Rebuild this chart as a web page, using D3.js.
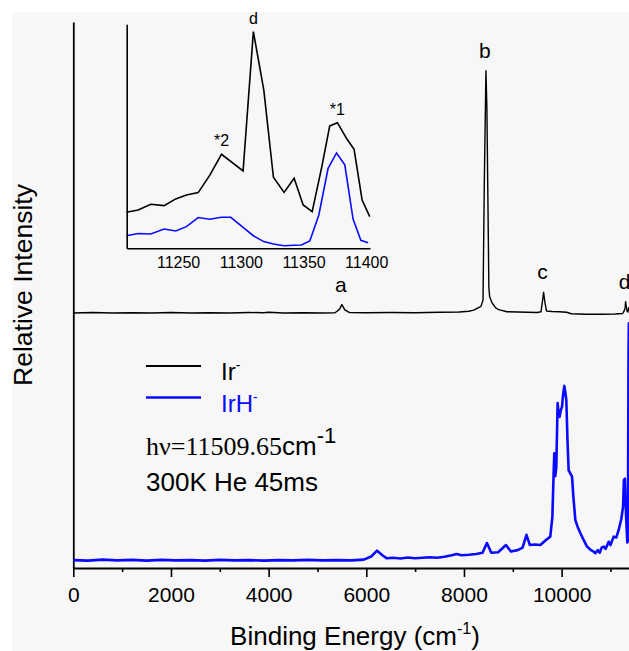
<!DOCTYPE html>
<html>
<head>
<meta charset="utf-8">
<script src="https://cdn.jsdelivr.net/npm/d3@7"></script>
<style>
    body { margin: 0; background: #fff; }
    svg { display: block; }
    .sans { font-family: "Liberation Sans", Arial, sans-serif; }
    .serif { font-family: "Liberation Serif", "Times New Roman", serif; }
</style>
</head>
<body>
<svg width="629" height="651"></svg>
<script>
// Ir- spectrum (height above its own baseline), main panel
const irEnergy = [0, 400, 800, 1200, 1600, 2000, 2400, 2800, 3200, 3600, 3900, 4000, 4300, 4700, 5100,
    5360, 5450, 5500, 5560, 5650, 6000, 6500, 7000, 7500, 7900, 8100, 8200, 8348, 8390, 8416, 8450,
    8470, 8484, 8510, 8525, 8574, 8650, 8709, 8881, 9100, 9300, 9500, 9578, 9610, 9631, 9655, 9690,
    9800, 9950, 10100, 10200, 10500, 10800, 11100, 11250, 11280, 11300, 11310, 11320, 11340, 11357,
    11377, 11390, 11403];
const irIntensity = [0, 0.002, 0, 0.001, 0, 0.002, 0, 0.001, 0, 0.002, 0.001, 0.003, 0, 0.001, 0,
    0.001, 0.014, 0.033, 0.012, 0.002, 0.001, 0.002, 0.001, 0.003, 0.004, 0.007, 0.011, 0.026, 0.05, 0.5, 0.95,
    0.8, 0.55, 0.1, 0.065, 0.04, 0.02, 0.013, 0.005, 0.004, 0.003, 0.002, 0.005, 0.05, 0.081, 0.045, 0.008,
    0.006, 0.005, 0.003, -0.003, -0.005, -0.005, -0.004, -0.002, 0.008, 0.02, 0.044, 0.03, 0.008, 0.004,
    0.022, 0.015, 0.004];

// IrH- spectrum, main panel
const irhEnergy = [0, 300, 600, 900, 1200, 1500, 1800, 2100, 2400, 2700, 3000, 3300, 3600, 3900, 4200,
    4500, 4800, 5100, 5400, 5700, 5950, 6100, 6220, 6330, 6420, 6550, 6700, 6850, 7000, 7150, 7300, 7450,
    7600, 7750, 7850, 7950, 8100, 8250, 8380, 8470, 8560, 8700, 8860, 8960, 9100, 9200, 9280, 9350, 9450,
    9563, 9680, 9768, 9810, 9836, 9850, 9870, 9891, 9918, 9940, 9959, 9985, 10008, 10030, 10055, 10075,
    10096, 10120, 10143, 10180, 10213, 10240, 10281, 10330, 10383, 10450, 10520, 10600, 10650, 10691,
    10740, 10780, 10820, 10861, 10900, 10963, 11000, 11066, 11120, 11168, 11220, 11258, 11275, 11295,
    11320, 11345, 11360, 11370, 11377, 11385, 11395, 11400];
const irhIntensity = [0.031, 0.029, 0.033, 0.030, 0.032, 0.029, 0.032, 0.030, 0.031, 0.029, 0.032, 0.030,
    0.031, 0.029, 0.031, 0.030, 0.032, 0.030, 0.031, 0.030, 0.033, 0.045, 0.068, 0.05, 0.038, 0.04, 0.037,
    0.041, 0.038, 0.04, 0.042, 0.04, 0.044, 0.05, 0.055, 0.05, 0.052, 0.055, 0.06, 0.098, 0.06, 0.062, 0.09,
    0.065, 0.07, 0.08, 0.13, 0.09, 0.092, 0.09, 0.11, 0.123, 0.2, 0.37, 0.45, 0.36, 0.397, 0.647, 0.6, 0.593,
    0.62, 0.633, 0.68, 0.714, 0.69, 0.659, 0.5, 0.384, 0.37, 0.358, 0.28, 0.188, 0.16, 0.137, 0.11, 0.084,
    0.07, 0.065, 0.058, 0.07, 0.06, 0.08, 0.084, 0.075, 0.103, 0.09, 0.123, 0.12, 0.149, 0.19, 0.24, 0.345,
    0.35, 0.2, 0.1, 0.3, 0.85, 0.96, 0.8, 0.2, 0.1];

// inset: zoom on 11210-11400 cm-1
const insetEnergy = [11208.8, 11218.1, 11228.2, 11238.8, 11248.1, 11256.6, 11266, 11275.3, 11284.6, 11292,
    11301.8, 11310, 11318.3, 11326, 11334.5, 11342.5, 11348.3, 11355, 11362.2, 11369.6, 11376.3, 11382.9,
    11389.5, 11395.7, 11401.5];
const insetIrEnergy = [11208.8, 11218.1, 11228.2, 11238.8, 11248.1, 11256.6, 11266, 11275.3, 11284.6,
    11301.8, 11310, 11318.3, 11326, 11334.5, 11342.5, 11349.7, 11356.9, 11364.3, 11370.9, 11377, 11384.2,
    11390.3, 11396.7, 11402.8];
const insetIr = [0.166, 0.177, 0.203, 0.197, 0.228, 0.246, 0.257, 0.338, 0.434, 0.357, 1.0, 0.731, 0.328,
    0.258, 0.323, 0.2, 0.169, 0.369, 0.565, 0.58, 0.508, 0.457, 0.223, 0.146];
const insetIrH = [0.058, 0.068, 0.066, 0.089, 0.08, 0.1, 0.142, 0.134, 0.143, 0.143, 0.097, 0.058, 0.031,
    0.02, 0.012, 0.014, 0.015, 0.034, 0.154, 0.369, 0.44, 0.385, 0.135, 0.037, 0.026];

const mainTicks = [0, 2000, 4000, 6000, 8000, 10000];
const minorTicks = [1000, 3000, 5000, 7000, 9000, 11000];
const insetTicks = [11250, 11300, 11350, 11400];

const peakLabels = [
    { text: 'a', energy: 5500, height: 0.033 },
    { text: 'b', energy: 8450, height: 0.95 },
    { text: 'c', energy: 9631, height: 0.081 },
    { text: 'd', energy: 11310, height: 0.044 }
];
const insetLabels = [
    { text: 'd', energy: 11310, height: 1.0 },
    { text: '*2', energy: 11284.6, height: 0.434 },
    { text: '*1', energy: 11377, height: 0.58 }
];

const irOffset = 1.0;
const blue = '#0a0aff';

const svg = d3.select('svg');

svg.append('rect')
    .attr('x', 12).attr('y', 12)
    .attr('width', 629).attr('height', 651)
    .attr('fill', '#f7f7f7');

const x = d3.scaleLinear().domain([0, 11400]).range([73.3, 630]);
const y = d3.scaleLinear().domain([0, 2.141]).range([568, 22]);

const xIn = d3.scaleLinear().domain([11209, 11403]).range([126.7, 370]);
const yIn = d3.scaleLinear().domain([0, 1.034]).range([248.3, 24.3]);

// ---- main axes
const xAxis = svg.append('g')
    .attr('class', 'sans')
    .attr('transform', `translate(0,${y(0)})`)
    .call(d3.axisBottom(x)
        .tickValues(mainTicks)
        .tickFormat(d3.format('d'))
        .tickSize(9)
        .tickSizeOuter(0)
        .tickPadding(10));
xAxis.selectAll('text').attr('font-size', 21).attr('fill', '#000');

svg.append('g')
    .attr('transform', `translate(0,${y(0)})`)
    .call(d3.axisBottom(x).tickValues(minorTicks).tickFormat('').tickSize(4))
    .call(g => g.select('.domain').remove());

svg.append('g')
    .attr('transform', `translate(${x(0)},0)`)
    .call(d3.axisLeft(y).tickValues([]).tickSizeOuter(0));

svg.selectAll('.domain').attr('stroke-width', 1.8);
svg.selectAll('.tick line').attr('stroke-width', 1.6);

// ---- main spectra
const line = d3.line()
    .x(d => x(d[0]))
    .y(d => y(d[1]));

svg.append('path')
    .datum(irhEnergy.map((e, i) => [e, irhIntensity[i]]))
    .attr('fill', 'none')
    .attr('stroke', blue)
    .attr('stroke-width', 2.6)
    .attr('stroke-linejoin', 'round')
    .attr('d', line);

svg.append('path')
    .datum(irEnergy.map((e, i) => [e, irIntensity[i] + irOffset]))
    .attr('fill', 'none')
    .attr('stroke', '#000')
    .attr('stroke-width', 1.4)
    .attr('stroke-linejoin', 'round')
    .attr('d', line);

svg.append('g')
    .attr('class', 'sans')
    .selectAll('text')
    .data(peakLabels)
    .join('text')
        .attr('x', d => x(d.energy) - 1)
        .attr('y', d => y(d.height + irOffset) - 13)
        .attr('text-anchor', 'middle')
        .attr('font-size', 21)
        .text(d => d.text);

// ---- inset
const inset = svg.append('g').attr('class', 'inset');

const insetLine = d3.line()
    .x(d => xIn(d[0]))
    .y(d => yIn(d[1]));

inset.append('path')
    .datum(insetEnergy.map((e, i) => [e, insetIrH[i]]))
    .attr('fill', 'none')
    .attr('stroke', blue)
    .attr('stroke-width', 1.6)
    .attr('d', insetLine);

inset.append('path')
    .datum(insetIrEnergy.map((e, i) => [e, insetIr[i]]))
    .attr('fill', 'none')
    .attr('stroke', '#000')
    .attr('stroke-width', 1.6)
    .attr('d', insetLine);

const inX = inset.append('g')
    .attr('class', 'sans')
    .attr('transform', `translate(0,${yIn(0)})`)
    .call(d3.axisBottom(xIn)
        .tickValues(insetTicks)
        .tickFormat(d3.format('d'))
        .tickSize(0)
        .tickSizeOuter(0)
        .tickPadding(8));
inX.selectAll('text').attr('font-size', 16).attr('fill', '#000');

inset.append('g')
    .attr('transform', `translate(${xIn.range()[0]},0)`)
    .call(d3.axisLeft(yIn).tickValues([]).tickSizeOuter(0));

inset.selectAll('.domain').attr('stroke-width', 1.6);

inset.append('g')
    .attr('class', 'sans')
    .selectAll('text')
    .data(insetLabels)
    .join('text')
        .attr('x', d => xIn(d.energy))
        .attr('y', d => yIn(d.height) - 8)
        .attr('text-anchor', 'middle')
        .attr('font-size', 16)
        .text(d => d.text);

// ---- legend
const legend = svg.append('g').attr('class', 'sans');

legend.append('line')
    .attr('x1', 146).attr('x2', 201).attr('y1', 366).attr('y2', 366)
    .attr('stroke', '#000').attr('stroke-width', 2);
legend.append('line')
    .attr('x1', 146).attr('x2', 201).attr('y1', 397.5).attr('y2', 397.5)
    .attr('stroke', blue).attr('stroke-width', 2.6);

const irLabel = legend.append('text')
    .attr('x', 221).attr('y', 380)
    .attr('font-size', 24);
irLabel.append('tspan').text('Ir');
irLabel.append('tspan').attr('dy', -10).attr('font-size', 14).text('-');

const irhLabel = legend.append('text')
    .attr('x', 221).attr('y', 412)
    .attr('font-size', 24)
    .attr('fill', blue);
irhLabel.append('tspan').text('IrH');
irhLabel.append('tspan').attr('dy', -10).attr('font-size', 14).text('-');

const photon = legend.append('text')
    .attr('x', 146).attr('y', 455)
    .attr('font-size', 26);
photon.append('tspan').attr('class', 'serif').attr('font-size', 26).text('hν=11509.65');
photon.append('tspan').text('cm');
photon.append('tspan').attr('dy', -12).attr('font-size', 22).text('-1');

legend.append('text')
    .attr('x', 146).attr('y', 491)
    .attr('font-size', 26)
    .text('300K He 45ms');

// ---- axis titles
const xTitle = svg.append('text')
    .attr('class', 'sans')
    .attr('x', 355).attr('y', 645)
    .attr('text-anchor', 'middle')
    .attr('font-size', 26);
xTitle.append('tspan').text('Binding Energy (cm');
xTitle.append('tspan').attr('dy', -11).attr('font-size', 16).text('-1');
xTitle.append('tspan').attr('dy', 11).text(')');

svg.append('text')
    .attr('class', 'sans')
    .attr('transform', 'translate(32,285) rotate(-90)')
    .attr('text-anchor', 'middle')
    .attr('font-size', 26.5)
    .text('Relative Intensity');
</script>
</body>
</html>
